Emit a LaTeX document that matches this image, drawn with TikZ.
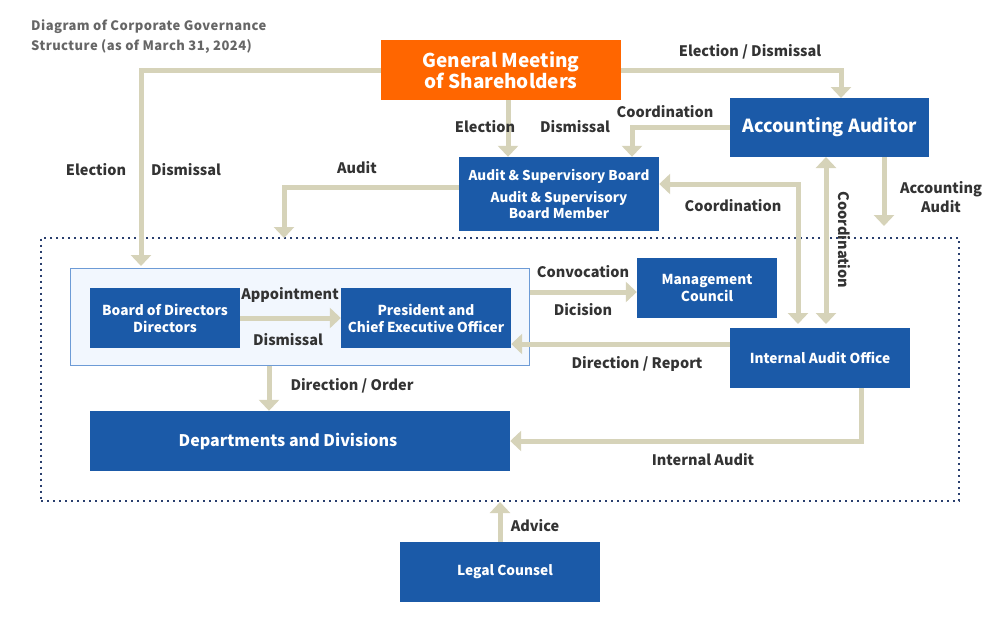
\documentclass[tikz,border=0pt]{standalone}
\usepackage{fontspec}
\setmainfont{Noto Sans CJK JP}
\usetikzlibrary{arrows.meta}
\definecolor{boxblue}{HTML}{1B5AA8}
\definecolor{gmsorange}{HTML}{FF6600}
\definecolor{conncol}{HTML}{D6D3B9}
\definecolor{lblcol}{HTML}{333333}
\definecolor{ttlcol}{HTML}{666666}
\definecolor{dotnavy}{HTML}{2A3F6E}
\definecolor{contfill}{HTML}{F2F7FE}
\definecolor{contline}{HTML}{6D9BD6}
\tikzset{
  bx/.style={fill=boxblue, text=white, align=center, inner sep=0pt,
    font=\bfseries\fontsize{13.7}{17}\selectfont},
  lab/.style={text=lblcol, inner sep=0pt, align=center,
    font=\bfseries\fontsize{14.5}{18}\selectfont},
  conn/.style={draw=conncol, line width=5pt},
  tip/.style={-{Triangle[width=20pt,length=11pt]}},
  tips/.style={{Triangle[width=20pt,length=11pt]}-{Triangle[width=20pt,length=11pt]}}
}
\begin{document}
\begin{tikzpicture}[x=1pt,y=-1pt]
\useasboundingbox (0,0) rectangle (1000,630);
% title
\node[anchor=west, text=ttlcol, align=left, inner sep=0pt,
  font=\bfseries\fontsize{13}{20}\selectfont\addfontfeatures{LetterSpace=3.5}] (title) at (31,37)
  {Diagram of Corporate Governance\\Structure (as of March 31, 2024)};
% containers
\node[draw=dotnavy, line width=2pt, dash pattern=on 2pt off 4pt,
  minimum width=918pt, minimum height=263pt, inner sep=0pt] (scope) at (500,369) {};
\node[fill=contfill, draw=contline, line width=1pt, minimum width=459pt,
  minimum height=97pt, inner sep=0pt] (cont) at (299.5,316.5) {};
% boxes
\node[bx, fill=gmsorange, minimum width=240pt, minimum height=60pt,
  font=\bfseries\fontsize{19}{21}\selectfont] (gms) at (501,70)
  {General Meeting\\of Shareholders};
\node[bx, minimum width=199pt, minimum height=59pt,
  font=\bfseries\fontsize{18}{21}\selectfont] (acc) at (829.5,127.5) {Accounting Auditor};
\node[bx, minimum width=200pt, minimum height=74pt,
  font=\bfseries\fontsize{13.5}{16}\selectfont] (asb) at (559,194)
  {Audit \& Supervisory Board\\[6pt]Audit \& Supervisory\\Board Member};
\node[bx, minimum width=150pt, minimum height=60pt] (board) at (165,318)
  {Board of Directors\\Directors};
\node[bx, minimum width=170pt, minimum height=60pt] (pres) at (426,318)
  {President and\\Chief Executive Officer};
\node[bx, minimum width=140pt, minimum height=60pt] (mc) at (707,288)
  {Management\\Council};
\node[bx, minimum width=180pt, minimum height=60pt] (iao) at (820,358)
  {Internal Audit Office};
\node[bx, minimum width=420pt, minimum height=60pt,
  font=\bfseries\fontsize{16}{19}\selectfont] (dept) at (300,441)
  {\hspace*{-24pt}Departments and Divisions};
\node[bx, minimum width=200pt, minimum height=60pt] (legal) at (500,572)
  {\hspace*{10pt}Legal Counsel};
% helper coordinates
\coordinate (bdIn) at (141,266);
\coordinate (accIn) at (841,98);
\coordinate (auditTip) at (284,238);
\coordinate (c6corner) at (798,184);
\coordinate (iaoIn1) at (798,324);
\coordinate (iaoIn2) at (826,324);
\coordinate (accOut2) at (826,157);
\coordinate (accAuditTip) at (884,226);
\coordinate (adviceTip) at (500,502);
% connectors
\draw[conn, tip] (gms.west) -| (bdIn);
\draw[conn, tip] (gms.east) -| (accIn);
\draw[conn, tip] (gms.south -| 508,0) -- (asb.north -| 508,0);
\draw[conn, tip] (acc.west |- 0,127) -| (asb.north -| 632,0);
\draw[conn, tip] (asb.west |- 0,187) -| (auditTip);
\draw[conn, tips] (asb.east |- 0,184) -- (c6corner) -- (iaoIn1);
\draw[conn, tips] (accOut2) -- (iaoIn2);
\draw[conn, tip] (acc.south -| 884,0) -- (accAuditTip);
\draw[conn, tip] (board.east) -- (pres.west);
\draw[conn, tip] (cont.east |- 0,292) -- (mc.west |- 0,292);
\draw[conn, tip] (iao.west |- 0,344) -- (pres.east |- 0,344);
\draw[conn, tip] (cont.south -| 269,0) -- (dept.north -| 269,0);
\draw[conn, tip] (iao.south -| 861,0) |- (dept.east |- 0,441);
\draw[conn, tip] (legal.north) -- (adviceTip);
% labels
\node[lab] (l1) at (96,170) {Election};
\node[lab] (l2) at (186,170) {Dismissal};
\node[lab] (l3) at (750,52) {Election / Dismissal};
\node[lab] (l4) at (485,127) {Election};
\node[lab] (l5) at (575,127) {Dismissal};
\node[lab] (l6) at (665,112) {Coordination};
\node[lab] (l7) at (357,168) {Audit};
\node[lab] (l8) at (733,206) {Coordination};
\node[lab, rotate=-90] (l9) at (844,240) {Coordination};
\node[lab, font=\bfseries\fontsize{14.5}{19}\selectfont] (l10) at (941,197) {Accounting\\Audit};
\node[lab] (l11) at (290,295) {Appointment};
\node[lab] (l12) at (288,340) {Dismissal};
\node[lab] (l13) at (583,272) {Convocation};
\node[lab] (l14) at (583,310) {Dicision};
\node[lab] (l15) at (637,364) {Direction / Report};
\node[lab] (l16) at (352,386) {Direction / Order};
\node[lab] (l17) at (703,460) {Internal Audit};
\node[lab] (l18) at (535,526) {Advice};
\end{tikzpicture}
\end{document}
